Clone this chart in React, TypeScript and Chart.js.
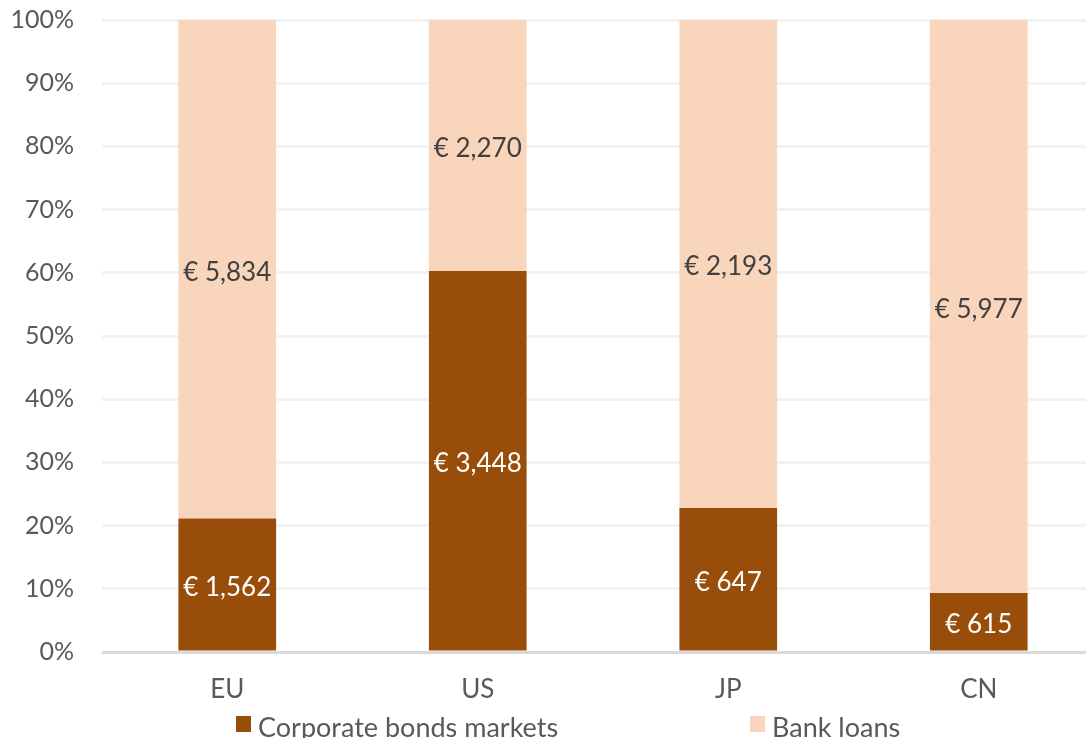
import React, { useEffect, useRef } from "react";
import { Chart, registerables } from "chart.js";

Chart.register(...registerables);

const categories = ["EU", "US", "JP", "CN"];
const bondValues = [1562, 3448, 647, 615];
const loanValues = [5834, 2270, 2193, 5977];
const seriesNames = ["Corporate bonds markets", "Bank loans"];
const seriesColors = ["#984E0A", "#F9D5BC"];
const yTicks = [0, 10, 20, 30, 40, 50, 60, 70, 80, 90, 100];

const FONT = "Lato, 'Open Sans', sans-serif";

const totals = categories.map((_, i) => bondValues[i] + loanValues[i]);
const bondPct = bondValues.map((v, i) => (v / totals[i]) * 100);
const loanPct = loanValues.map((v, i) => (v / totals[i]) * 100);

const fmt = (v: number) => "€ " + v.toLocaleString("en-US");

const labelPlugin = {
  id: "barLabels",
  afterDatasetsDraw(chart: any) {
    const ctx = chart.ctx;
    const raw = [bondValues, loanValues];
    const colors = ["#ffffff", "#404040"];
    chart.data.datasets.forEach((ds: any, di: number) => {
      const meta = chart.getDatasetMeta(di);
      meta.data.forEach((bar: any, i: number) => {
        const yc = (bar.y + bar.base) / 2;
        ctx.save();
        ctx.font = `26px ${FONT}`;
        ctx.fillStyle = colors[di];
        ctx.textAlign = "center";
        ctx.textBaseline = "middle";
        ctx.fillText(fmt(raw[di][i]), bar.x, yc + 3);
        ctx.restore();
      });
    });
  },
};

const legendPlugin = {
  id: "customLegend",
  afterDraw(chart: any) {
    const ctx = chart.ctx;
    const startX = 236;
    const pitch = 514;
    const cy = 724;
    ctx.save();
    ctx.font = `27px ${FONT}`;
    ctx.textBaseline = "middle";
    ctx.textAlign = "left";
    seriesNames.forEach((name, i) => {
      const x = startX + i * pitch;
      ctx.fillStyle = seriesColors[i];
      ctx.fillRect(x, cy - 8, 15, 16);
      ctx.fillStyle = "#595959";
      ctx.fillText(name, x + 22, cy + 4);
    });
    ctx.restore();
  },
};

export default function App() {
  const ref = useRef<HTMLCanvasElement>(null);
  useEffect(() => {
    if (!ref.current) return;
    const chart = new Chart(ref.current, {
      type: "bar",
      data: {
        labels: categories,
        datasets: [
          {
            label: seriesNames[0],
            data: bondPct,
            backgroundColor: seriesColors[0],
            barPercentage: 0.39,
            categoryPercentage: 1,
          },
          {
            label: seriesNames[1],
            data: loanPct,
            backgroundColor: seriesColors[1],
            barPercentage: 0.39,
            categoryPercentage: 1,
          },
        ],
      },
      options: {
        animation: false,
        responsive: false,
        maintainAspectRatio: false,
        layout: { padding: { top: 20, left: 0, right: 0, bottom: 0 } },
        plugins: {
          legend: { display: false },
          tooltip: { enabled: false },
        },
        scales: {
          x: {
            stacked: true,
            afterFit: (s: any) => {
              s.height = 86;
            },
            grid: { display: false, drawTicks: false },
            border: { display: false },
            ticks: { font: { size: 26, family: FONT }, color: "#595959", padding: 22 },
          },
          y: {
            stacked: true,
            min: 0,
            max: 100,
            afterFit: (s: any) => {
              s.width = 102;
              s.paddingTop = 0;
              s.paddingBottom = 0;
            },
            afterBuildTicks: (s: any) => {
              s.ticks = yTicks.map((v) => ({ value: v }));
            },
            grid: {
              color: (c: any) => (c.tick && c.tick.value === 0 ? "#d9d9d9" : "#f2f2f2"),
              lineWidth: 3,
              drawTicks: false,
            },
            border: { display: false },
            ticks: {
              font: { size: 25, family: FONT },
              color: "#595959",
              padding: 28,
              callback: (v: any) => v + "%",
            },
          },
        },
      },
      plugins: [labelPlugin, legendPlugin],
    });
    return () => chart.destroy();
  }, []);
  return (
    <div
      style={{
        position: "fixed",
        left: 0,
        top: 0,
        width: 1086,
        height: 738,
        overflow: "hidden",
        background: "#fff",
      }}
    >
      <canvas ref={ref} width={1104} height={738} style={{ display: "block" }} />
    </div>
  );
}
